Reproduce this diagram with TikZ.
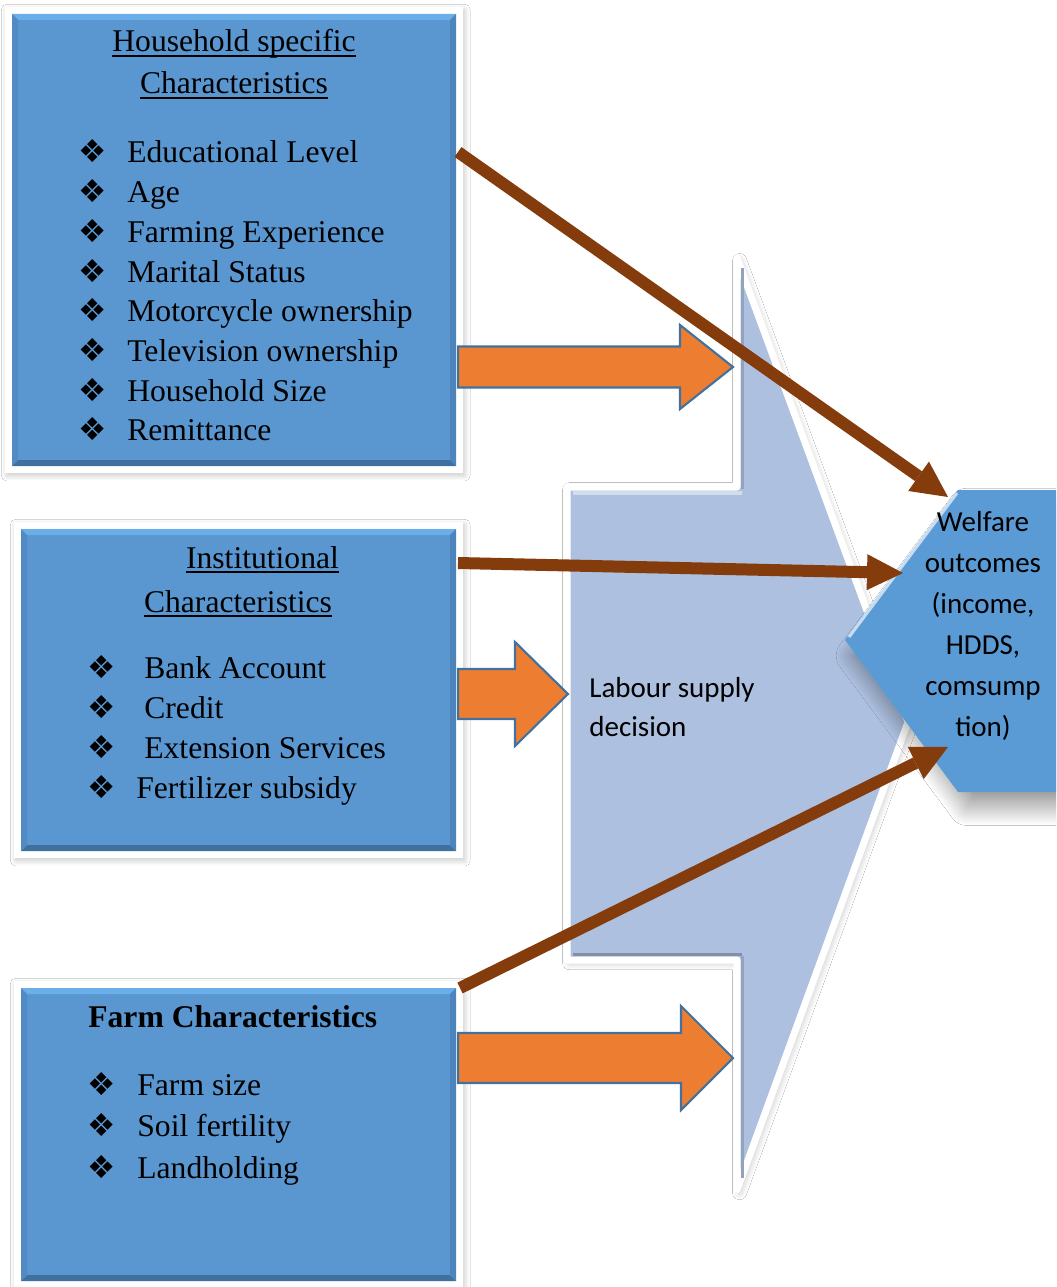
\documentclass[tikz,border=0pt]{standalone}
\usepackage{fontspec}
\setmainfont{Liberation Serif}
\newfontfamily\labelfont{Carlito}
\newfontfamily\symbolfont{DejaVu Sans}
\usetikzlibrary{arrows.meta,fit,shadows.blur}

\definecolor{panelblue}{HTML}{5A97D0}
\definecolor{panellight}{HTML}{6AAEEA}
\definecolor{paneldark}{HTML}{3F709E}
\definecolor{panelside}{HTML}{4C84BB}
\definecolor{decisionblue}{HTML}{ADC0DF}
\definecolor{pushorange}{HTML}{ED7D31}
\definecolor{pushedge}{HTML}{41719C}
\definecolor{linkbrown}{HTML}{843C0C}
\definecolor{welfareblue}{HTML}{5B9BD5}

% fat block arrow: start, shaft length, shaft half width, head half width, head length
\newcommand{\fatarrow}[5]{%
  \draw[push] (#1) ++(0,-#3) -- ++(#2,0) -- ++(0,#3-#4) -- ++(#5,#4)
    -- ++(-#5,#4) -- ++(0,#3-#4) -- ++(-#2,0) -- cycle;}

\begin{document}
\begin{tikzpicture}[x=0.02cm, y=-0.02cm,
  whiteframe/.style={fill=white, inner sep=0.14cm, outer sep=0pt,
    blur shadow={shadow xshift=1pt, shadow yshift=-1.5pt, shadow blur radius=3pt,
      shadow blur steps=25, shadow opacity=22}},
  panel/.style={fill=panelblue, inner sep=0pt, outer sep=0pt},
  head/.style={font=\fontsize{18}{22}\selectfont, anchor=base, inner sep=0pt},
  item/.style={font=\fontsize{18}{22}\selectfont, anchor=base west, inner sep=0pt},
  bullet/.style={font=\symbolfont\fontsize{18}{22}\selectfont, anchor=base, inner sep=0pt},
  decisiontext/.style={font=\labelfont\fontsize{16.5}{20}\selectfont, inner sep=0pt},
  push/.style={fill=pushorange, draw=pushedge, line width=1.2pt},
  link/.style={draw=linkbrown, line width=0.24cm,
    -{Triangle[length=0.72cm, width=0.72cm, line width=0pt]}}]

  \useasboundingbox (0,0) rectangle (1056,1287);
  \clip (0,0) rectangle (1056,1287);
  \fill[white] (0,0) rectangle (1056,1287);

  % the three groups of factors
  \node[whiteframe, fit={(12,14) (456,466)}] (household-frame) {};
  \node[panel, fit={(12,14) (456,466)}] (household) {};
  \node[whiteframe, fit={(21,529) (456,851)}] (institution-frame) {};
  \node[panel, fit={(21,529) (456,851)}] (institution) {};
  \node[whiteframe, fit={(21,988) (456,1281)}] (farm-frame) {};
  \node[panel, fit={(21,988) (456,1281)}] (farm) {};

  % bevelled edges
  \foreach \p in {household, institution, farm} {
    \fill[panellight] (\p.north west) -- (\p.north east) -- ([shift={(-6,6)}]\p.north east) -- ([shift={(6,6)}]\p.north west) -- cycle;
    \fill[paneldark] (\p.south west) -- (\p.south east) -- ([shift={(-6,-6)}]\p.south east) -- ([shift={(6,-6)}]\p.south west) -- cycle;
    \fill[panelside] (\p.north east) -- (\p.south east) -- ([shift={(-6,-6)}]\p.south east) -- ([shift={(-6,6)}]\p.north east) -- cycle;
    \fill[panelside!60!panelblue] (\p.north west) -- (\p.south west) -- ([shift={(6,-6)}]\p.south west) -- ([shift={(6,6)}]\p.north west) -- cycle;
  }

  % labour supply decision
  \path[fill=decisionblue, draw=white, line width=0.14cm, line join=round,
    blur shadow={shadow xshift=1.5pt, shadow yshift=-1.5pt, shadow blur radius=4pt,
      shadow blur steps=25, shadow opacity=25}]
    (737,258) -- (737,487) -- (567,487) -- (567,960) -- (737,960) -- (737,1190) -- (908,722) -- cycle;
  \draw[decisionblue!55!white, line width=0.08cm] (742,493) -- (573,493);
  \draw[decisionblue!75!black, line width=0.06cm] (573,954) -- (742,954);
  \draw[decisionblue!85!black, line width=0.06cm] (742,268) -- (742,489);
  \draw[decisionblue!85!black, line width=0.06cm] (742,956) -- (742,1178);

  % orange arrows into the decision
  \coordinate (household-push) at (458,367);
  \coordinate (institution-push) at (458,694);
  \coordinate (farm-push) at (458,1058);
  \fatarrow{household-push}{222}{20.5}{42}{53}
  \fatarrow{institution-push}{57}{25}{52}{53}
  \fatarrow{farm-push}{223}{25}{52}{52}

  % welfare outcomes
  \path[fill=welfareblue,
    blur shadow={shadow xshift=5pt, shadow yshift=-9pt, shadow blur radius=10pt,
      shadow blur steps=40, shadow opacity=40}]
    (845,640) -- (958,490) -- (1090,490) -- (1090,792) -- (958,792) -- cycle;
  \draw[welfareblue!35!white, line width=0.06cm] (849,637) -- (957,493);

  % direct links
  \coordinate (household-link) at (458,152);
  \coordinate (institution-link) at (458,563);
  \coordinate (farm-link) at (460,988);
  \coordinate (welfare-top) at (948,497);
  \coordinate (welfare-mid) at (903,573);
  \coordinate (welfare-low) at (948,747);
  \draw[link] (household-link) -- (welfare-top);
  \draw[link] (institution-link) -- (welfare-mid);
  \draw[link] (farm-link) -- (welfare-low);

  % texts
  \node[head] (household-title1) at (234,52) {Household specific};
  \node[head] (household-title2) at (234,94) {Characteristics};
  \foreach \t [count=\i] in {Educational Level, Age, Farming Experience, Marital Status,
      Motorcycle ownership, Television ownership, Household Size, Remittance} {
    \node[bullet] (household-b\i) at (93,123.3+39.7*\i) {❖};
    \node[item] (household-i\i) at (127,123.3+39.7*\i) {\t};
  }

  \node[head] (institution-title1) at (262.5,568) {Institutional};
  \node[head] (institution-title2) at (238,612) {Characteristics};
  \foreach \t/\x [count=\i] in {Bank Account/144, Credit/144, Extension Services/144, Fertilizer subsidy/136} {
    \node[bullet] (institution-b\i) at (102,638+40*\i) {❖};
    \node[item] (institution-i\i) at (\x,638+40*\i) {\t};
  }

  % underlined headings
  \foreach \h in {household-title1, household-title2, institution-title1, institution-title2}
    \draw[line width=0.8pt] ([yshift=-2.3pt]\h.base west) -- ([yshift=-2.3pt]\h.base east);

  \node[item, font=\fontsize{18}{22}\selectfont\bfseries] (farm-title) at (88,1027) {Farm Characteristics};
  \foreach \t [count=\i] in {Farm size, Soil fertility, Landholding} {
    \node[bullet] (farm-b\i) at (102,1053.5+41.5*\i) {❖};
    \node[item] (farm-i\i) at (137,1053.5+41.5*\i) {\t};
  }

  \node[decisiontext, anchor=base west] (labour1) at (589,697) {Labour supply};
  \node[decisiontext, anchor=base west] (labour2) at (589,736) {decision};

  \foreach \t [count=\i] in {Welfare, outcomes, {(income,}, {HDDS,}, comsump, tion)}
    \node[decisiontext, anchor=base] (welfare\i) at (983,490+41*\i) {\t};
\end{tikzpicture}
\end{document}
